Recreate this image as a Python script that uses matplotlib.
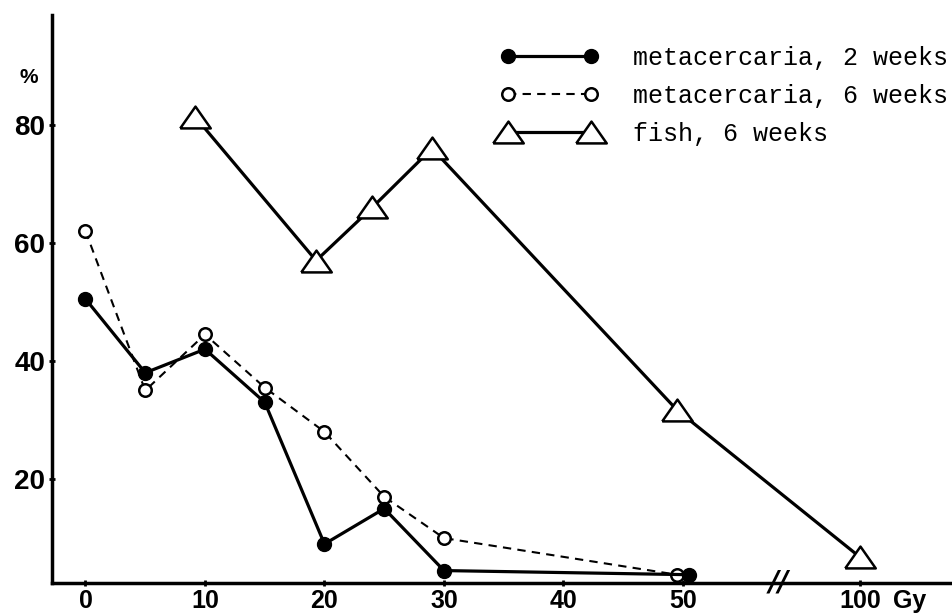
import numpy as np
import matplotlib
matplotlib.use('Agg')
import matplotlib.pyplot as plt

# survival (%) vs dose (Gy); 100 Gy sits behind an axis break
dose_2w = [0, 5, 10, 15, 20, 25, 30, 50.5]
meta_2w = [50.5, 38, 42, 33, 9, 15, 4.5, 3.8]

dose_6w = [0, 5, 10, 15, 20, 25, 30, 49.5]
meta_6w = [62, 35, 44.5, 35.5, 28, 17, 10, 3.8]

dose_fish = [9.2, 19.3, 24, 29, 49.5, 100]
fish_6w = [81.3, 57, 66, 76, 31.7, 6.8]

xticks = [0, 10, 20, 30, 40, 50, 100]
yticks = [20, 40, 60, 80]

BREAK_POS = 64.8  # where 100 Gy is drawn


def xpos(d):
    d = np.asarray(d, dtype=float)
    return np.where(d > 55, BREAK_POS, d)


fig = plt.figure(figsize=(9.53, 6.13), dpi=100)
ax = fig.add_axes([0.0546, 0.049, 0.9454, 0.9265])

ax.plot(xpos(dose_2w), meta_2w, '-', color='black', lw=2.3,
        marker='o', ms=10, mfc='black', mec='black',
        label='metacercaria, 2 weeks', zorder=4)
ax.plot(xpos(dose_6w), meta_6w, '--', color='black', lw=1.5, dashes=(4, 3),
        marker='o', ms=9, mfc='white', mec='black', mew=1.8,
        label='metacercaria, 6 weeks', zorder=3)
tri = [(-1.4, -1), (0, 1), (1.4, -1), (-1.4, -1)]
ax.plot(xpos(dose_fish), fish_6w, '-', color='black', lw=2.3,
        marker=tri, ms=22, mfc='white', mec='black', mew=1.8,
        label='fish, 6 weeks', zorder=5)

ax.set_xlim(-2.8, 72.6)
ax.set_ylim(2.4, 98.6)

for s in ['top', 'right']:
    ax.spines[s].set_visible(False)
for s in ['left', 'bottom']:
    ax.spines[s].set_linewidth(2.5)

ax.set_xticks(xpos(xticks))
ax.set_xticklabels([str(t) for t in xticks])
ax.set_yticks(yticks)
ax.set_yticklabels([str(t) for t in yticks])
ax.tick_params(axis='y', length=4, width=2, direction='inout',
               labelsize=20, pad=3)
ax.tick_params(axis='x', length=4, width=2, direction='inout',
               labelsize=18, pad=2)
for lab in ax.get_xticklabels() + ax.get_yticklabels():
    lab.set_fontweight('bold')
    lab.set_family('Liberation Sans')

ax.annotate('Gy', xy=(BREAK_POS + 2.8, 2.4), xytext=(0, -4),
            textcoords='offset points', fontsize=18, fontweight='bold',
            family='Liberation Sans', ha='left', va='top', annotation_clip=False)
ax.text(-2.8 - 1.2, 88, '%', fontsize=15, fontweight='bold',
        family='Liberation Sans', ha='right', va='center', clip_on=False)
ax.text(58, 2.4, '//', fontsize=20, fontweight='bold', style='italic',
        ha='center', va='center', clip_on=False)

leg = ax.legend(loc='upper left', bbox_to_anchor=(0.473, 0.985), frameon=False,
                numpoints=2, handlelength=3.9, handletextpad=1.4,
                labelspacing=0.55, prop={'family': 'Liberation Mono', 'size': 18})

fig.savefig('out.png', dpi=100)
